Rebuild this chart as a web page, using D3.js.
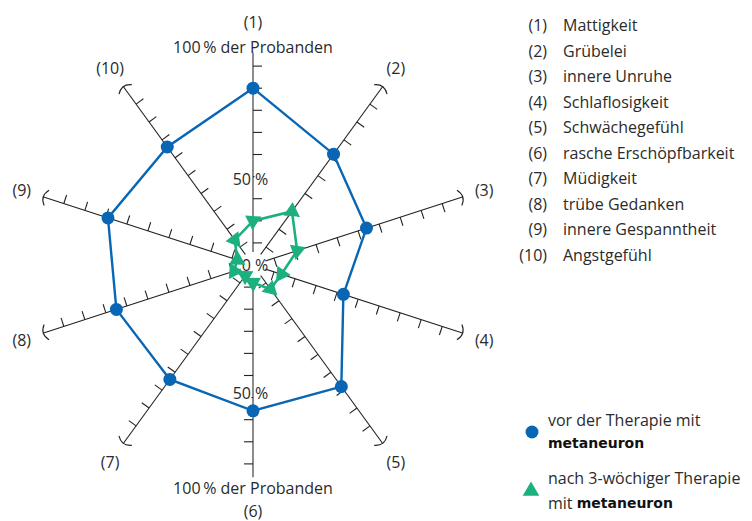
<!DOCTYPE html>
<meta charset="utf-8">
<script src="https://d3js.org/d3.v7.min.js"></script>
<style>
body { margin: 0; background: #fff; }
svg text { font-family: "Open Sans", "Noto Sans", sans-serif; fill: #2b2b2b; }
.logo { font-family: "DejaVu Sans", sans-serif !important; font-weight: bold; fill: #111 !important; }
</style>
<svg id="chart" width="752" height="521"></svg>
<script>
// categories
var axisNums = ["(1)", "(2)", "(3)", "(4)", "(5)", "(6)", "(7)", "(8)", "(9)", "(10)"];
var axisNames = ["Mattigkeit", "Grübelei", "innere Unruhe", "Schlaflosigkeit", "Schwächegefühl",
                 "rasche Erschöpfbarkeit", "Müdigkeit", "trübe Gedanken", "innere Gespanntheit", "Angstgefühl"];
// % der Probanden
var before = [80, 62, 54, 43, 68, 66, 64, 65, 69, 66];
var after = [20, 30, 21, 13.5, 13.5, 8, 6, 9, 7.5, 14];
var ticks = [10, 20, 30, 40, 50, 60, 70, 80, 90];

var blue = "#0866b4", green = "#1db07f";
var fs = "16px";
var svg = d3.select("#chart");
var cx = 253, cy = 265;
var r = d3.scaleLinear().domain([0, 100]).range([0, 221]);

function ang(i) { return i * Math.PI / 5; }
function pt(i, v) {
  var a = ang(i);
  return [cx + Math.sin(a) * r(v), cy - Math.cos(a) * r(v)];
}

var g = svg.append("g");

// axes
axisNums.forEach(function(d, i) {
  var a = ang(i);
  var dir = [Math.sin(a), -Math.cos(a)];
  var perp = [-dir[1], dir[0]];
  var vertical = (i == 0 || i == 5);
  var end = vertical ? pt(i, 96) : pt(i, 100);
  g.append("line")
    .attr("x1", cx).attr("y1", cy)
    .attr("x2", end[0]).attr("y2", end[1])
    .attr("stroke", vertical ? "#808080" : "#222")
    .attr("stroke-width", vertical ? 1.8 : 1.1);
  ticks.forEach(function(t) {
    var p = pt(i, t);
    g.append("line")
      .attr("x1", p[0]).attr("y1", p[1])
      .attr("x2", p[0] + perp[0] * 9).attr("y2", p[1] + perp[1] * 9)
      .attr("stroke", "#222").attr("stroke-width", 1.1);
  });
  if (!vertical) {
    // end cap
    var e = pt(i, 100);
    var p1 = [e[0] + perp[0] * 8 - dir[0] * 4, e[1] + perp[1] * 8 - dir[1] * 4];
    var p2 = [e[0] - perp[0] * 8 - dir[0] * 4, e[1] - perp[1] * 8 - dir[1] * 4];
    var c = [e[0] + dir[0] * 3, e[1] + dir[1] * 3];
    g.append("path")
      .attr("d", "M" + p1 + "Q" + c + " " + p2)
      .attr("fill", "none").attr("stroke", "#222").attr("stroke-width", 1.1);
  }
  var lp = pt(i, 110);
  g.append("text")
    .attr("x", lp[0]).attr("y", lp[1] + (i == 5 ? 3 : 0))
    .attr("text-anchor", "middle").attr("dominant-baseline", "central")
    .style("font-size", fs)
    .text(d);
});

// scale labels
function splitLabel(y, left, right, maskSide) {
  if (maskSide == "right") {
    g.append("rect").attr("x", cx + 1.5).attr("y", y - 9).attr("width", 16).attr("height", 18).attr("fill", "#fff");
  } else if (maskSide == "left") {
    g.append("rect").attr("x", cx - 20).attr("y", y - 9).attr("width", 18.5).attr("height", 18).attr("fill", "#fff");
  }
  g.append("text").attr("x", cx - 2).attr("y", y).attr("text-anchor", "end")
    .attr("dominant-baseline", "central").style("font-size", fs).text(left);
  g.append("text").attr("x", cx + 2).attr("y", y).attr("text-anchor", "start")
    .attr("dominant-baseline", "central").style("font-size", fs).text(right);
}
g.append("circle").attr("cx", cx).attr("cy", cy).attr("r", 13).attr("fill", "#fff");
g.append("text").attr("x", cx).attr("y", cy - r(99) + 1).attr("text-anchor", "middle")
  .attr("dominant-baseline", "central").style("font-size", fs).text("100\u2009% der Probanden");
g.append("text").attr("x", cx).attr("y", cy + r(100) + 2).attr("text-anchor", "middle")
  .attr("dominant-baseline", "central").style("font-size", fs).text("100\u2009% der Probanden");
splitLabel(cy - r(39), "50", "%", "right");
splitLabel(cy + r(58), "50", "%", "left");
splitLabel(cy, "0", "%", null);

// before therapy
var line = d3.line().curve(d3.curveLinearClosed);
var bPts = before.map(function(v, i) { return pt(i, v); });
g.append("path").attr("d", line(bPts))
  .attr("fill", "none").attr("stroke", blue).attr("stroke-width", 2.4);
g.selectAll("circle.b").data(bPts).enter().append("circle")
  .attr("class", "b")
  .attr("cx", function(d) { return d[0]; })
  .attr("cy", function(d) { return d[1]; })
  .attr("r", 6.5).attr("fill", blue);

// after therapy
var aPts = after.map(function(v, i) { return pt(i, v); });
g.append("path").attr("d", line(aPts))
  .attr("fill", "none").attr("stroke", green).attr("stroke-width", 2.6);
var tri = d3.symbol().type(d3.symbolTriangle).size(115);
g.selectAll("path.a").data(aPts).enter().append("path")
  .attr("class", "a")
  .attr("d", tri)
  .attr("fill", green)
  .attr("transform", function(d, i) {
    var prev = aPts[(i + 9) % 10], next = aPts[(i + 1) % 10];
    var rot = Math.atan2(next[1] - prev[1], next[0] - prev[0]) * 180 / Math.PI + 90;
    return "translate(" + d[0] + "," + d[1] + ") rotate(" + rot + ")";
  });

// category list
var list = svg.append("g");
var rowY = d3.scaleLinear().domain([0, 9]).range([25, 255]);
axisNums.forEach(function(d, i) {
  list.append("text").attr("x", 547).attr("y", rowY(i))
    .attr("text-anchor", "end").attr("dominant-baseline", "central")
    .style("font-size", fs).text(d);
  list.append("text").attr("x", 563).attr("y", rowY(i))
    .attr("dominant-baseline", "central")
    .style("font-size", fs).text(axisNames[i]);
});

// legend
var leg = svg.append("g");
leg.append("circle").attr("cx", 532).attr("cy", 432).attr("r", 6.5).attr("fill", blue);
leg.append("text").attr("x", 548).attr("y", 420).attr("dominant-baseline", "central")
  .style("font-size", fs).text("vor der Therapie mit");
leg.append("text").attr("class", "logo").attr("x", 548).attr("y", 443).attr("dominant-baseline", "central")
  .style("font-size", "14px").text("metaneuron");
leg.append("path").attr("d", d3.symbol().type(d3.symbolTriangle).size(120))
  .attr("fill", green).attr("transform", "translate(531,491)");
leg.append("text").attr("x", 548).attr("y", 478).attr("dominant-baseline", "central")
  .style("font-size", fs).text("nach 3-wöchiger Therapie");
var t2 = leg.append("text").attr("x", 548).attr("y", 503).attr("dominant-baseline", "central")
  .style("font-size", fs);
t2.append("tspan").text("mit ");
t2.append("tspan").attr("class", "logo").style("font-size", "14px").text("metaneuron");
</script>
